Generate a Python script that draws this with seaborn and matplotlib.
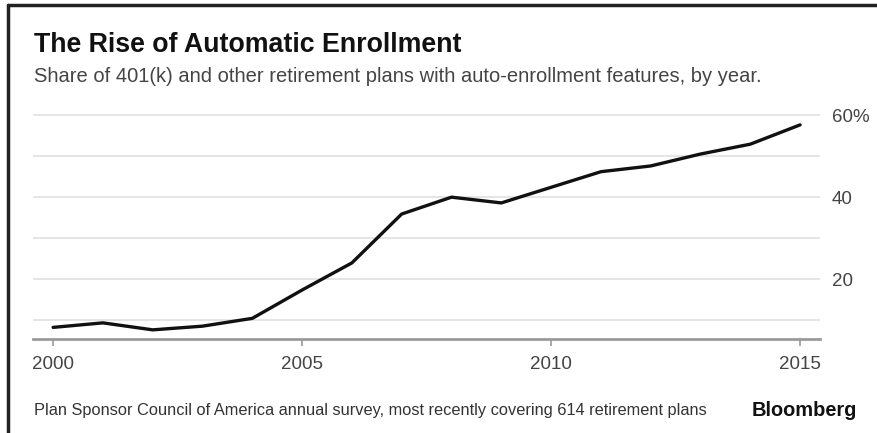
import matplotlib
matplotlib.use("Agg")
import matplotlib.pyplot as plt
from matplotlib.ticker import FixedLocator
from matplotlib.lines import Line2D
import seaborn as sns
import pandas as pd

years = [2000, 2001, 2002, 2003, 2004, 2005, 2006, 2007, 2008, 2009, 2010, 2011, 2012, 2013, 2014, 2015]
share = [8.3, 9.4, 7.7, 8.6, 10.5, 17.4, 24.0, 35.9, 40.0, 38.6, 42.4, 46.2, 47.6, 50.5, 52.9, 57.6]
x_ticks = [2000, 2005, 2010, 2015]
y_ticks = [20, 40, 60]
y_labels = ["20", "40", "60%"]
grid_levels = [10, 20, 30, 40, 50, 60]

title = "The Rise of Automatic Enrollment"
subtitle = "Share of 401(k) and other retirement plans with auto-enrollment features, by year."
source = "Plan Sponsor Council of America annual survey, most recently covering 614 retirement plans"
brand = "Bloomberg"

sns.set_theme(style="white")
plt.rcParams['font.family'] = ['Liberation Sans', 'DejaVu Sans']

df = pd.DataFrame({"year": years, "share": share})

W, H = 878, 433
fig = plt.figure(figsize=(W / 100, H / 100), dpi=100)
ax = fig.add_axes([32.7 / W, 1 - 339.3 / H, (820 - 32.7) / W, (339.3 - 106.8) / H])

for g in grid_levels:
    ax.axhline(g, color="#e3e3e3", lw=1.3, zorder=0)

sns.lineplot(data=df, x="year", y="share", ax=ax, color="#111111", lw=2.4, zorder=3)

ax.set_xlim(1999.59, 2015.4)
ax.set_ylim(5.4, 62)
ax.set_xlabel("")
ax.set_ylabel("")

for s in ["top", "left", "right"]:
    ax.spines[s].set_visible(False)
ax.spines["bottom"].set_color("#9a9a9a")
ax.spines["bottom"].set_linewidth(2)

ax.xaxis.set_major_locator(FixedLocator(x_ticks))
ax.set_xticklabels([str(x) for x in x_ticks])
ax.tick_params(axis="x", bottom=True, length=5, width=1.2, color="#9a9a9a",
               labelsize=13.5, labelcolor="#444444", pad=7)

ax.yaxis.tick_right()
ax.yaxis.set_major_locator(FixedLocator(y_ticks))
ax.set_yticklabels(y_labels)
ax.tick_params(axis="y", right=False, left=False, length=0, labelsize=13.5,
               labelcolor="#444444", pad=8.5)

fig.text(34 / W, 1 - 45 / H, title, fontsize=19.3, fontweight="bold", color="#111111",
         va="center", ha="left")
fig.text(34 / W, 1 - 77 / H, subtitle, fontsize=14.5, color="#444444",
         va="center", ha="left")
fig.text(34 / W, 1 - 410 / H, source, fontsize=11.8, color="#333333",
         va="center", ha="left")
fig.text(857 / W, 1 - 410 / H, brand, fontsize=14.4, fontweight="bold", color="#111111",
         va="center", ha="right")

fig.add_artist(Line2D([8 / W, 1.0], [1 - 5 / H, 1 - 5 / H], transform=fig.transFigure,
                      color="#222222", lw=2.5))
fig.add_artist(Line2D([8 / W, 8 / W], [0.0, 1 - 5 / H], transform=fig.transFigure,
                      color="#222222", lw=2.5))

fig.savefig("out.png", dpi=100)
